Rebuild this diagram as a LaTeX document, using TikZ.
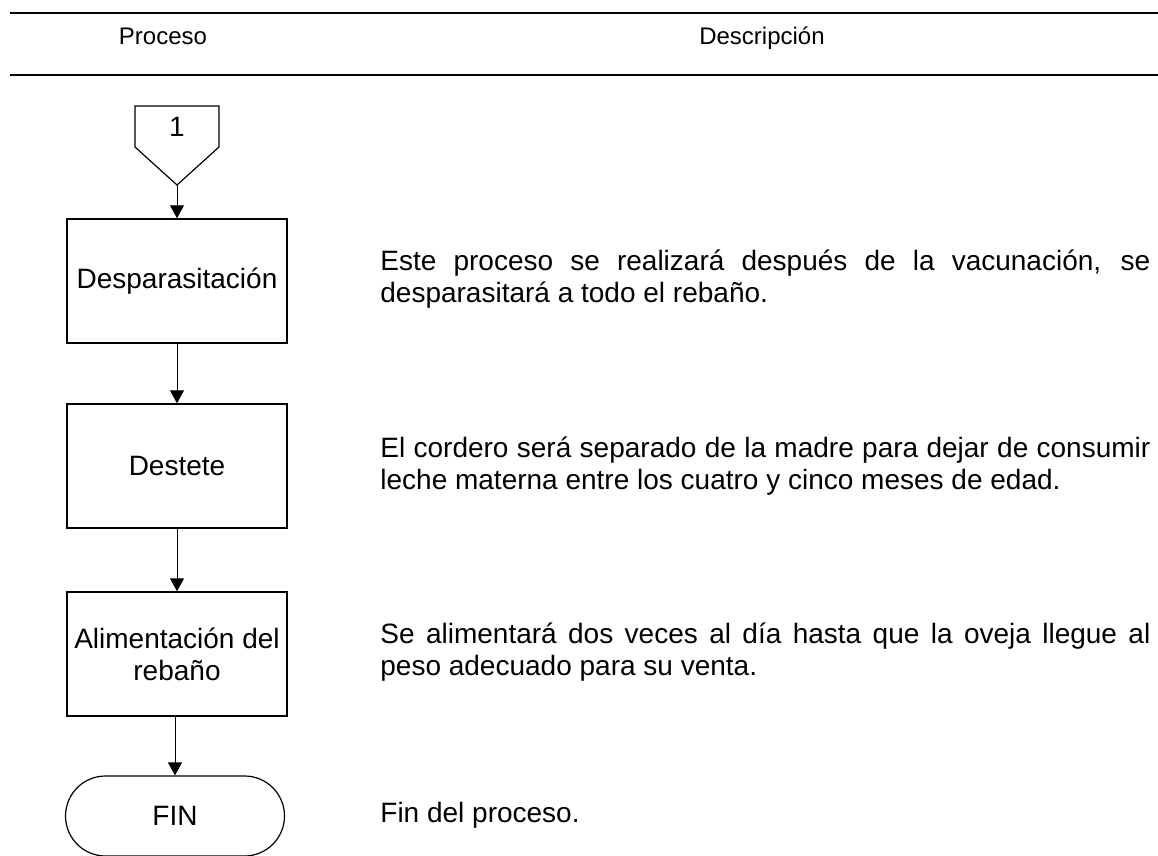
\documentclass[tikz,border=0pt]{standalone}
\usepackage{fontspec}
\setmainfont{Liberation Sans}
\usetikzlibrary{positioning,arrows.meta}
\newcommand{\pnode}[3]{\node [proc] (#1) at (#2) {#3}}
\newcommand{\dnode}[3]{\node [desc] (#1) at (#2) {#3}}
\newcommand{\fullline}[1]{\makebox[385pt][s]{#1}}

\begin{document}
\begin{tikzpicture}[x=0.5pt,y=-0.5pt,
  proc/.style={draw, line width=0.7pt, minimum width=110pt, minimum height=62pt,
    align=center, inner sep=0pt, font=\fontsize{14}{16}\selectfont},
  finbox/.style={draw, line width=0.6pt, rounded corners=20pt, minimum width=109.5pt,
    minimum height=40pt, inner sep=0pt, font=\fontsize{14}{16}\selectfont},
  desc/.style={anchor=west, align=left, inner sep=0pt, font=\fontsize{14}{16}\selectfont},
  hdr/.style={anchor=base, inner sep=0pt, font=\fontsize{12}{14}\selectfont},
  flow/.style={-{Triangle[length=6.5pt,width=7pt]}, line width=0.5pt}]

\useasboundingbox (0,0) rectangle (1158,856);

% cabecera de la tabla
\draw[line width=1pt] (10,13) -- (1158,13);
\draw[line width=1pt] (10,75) -- (1158,75);
\node [hdr] (proceso) at (163,45) {Proceso};
\node [hdr] (descripcion) at (762,45) {Descripción};

% conector de pagina
\draw[line width=0.6pt] (135,106) -- (219,106) -- (219,147) -- (177,185) -- (135,147) -- cycle;
\node [font=\fontsize{14}{16}\selectfont] (uno) at (177,127) {1};
\coordinate (c1) at (177,185);

\pnode{DESP}{177,281}{Desparasitación};
\pnode{DEST}{177,466}{Destete};
\pnode{ALIM}{177,654}{Alimentación del\\rebaño};
\node [finbox] (FIN) at (175,816) {FIN};

\draw[flow] (c1) -- (DESP);
\draw[flow] (DESP) -- (DEST);
\draw[flow] (DEST) -- (ALIM);
\draw[flow] (ALIM.south -| FIN.north) -- (FIN);

% descripciones
\dnode{dDESP}{380,279}{\fullline{Este proceso se realizará después de la vacunación, se}\\desparasitará a todo el rebaño.};
\dnode{dDEST}{380,466}{\fullline{El cordero será separado de la madre para dejar de consumir}\\leche materna entre los cuatro y cinco meses de edad.};
\dnode{dALIM}{380,652}{\fullline{Se alimentará dos veces al día hasta que la oveja llegue al}\\peso adecuado para su venta.};
\dnode{dFIN}{380,815}{Fin del proceso.};

\end{tikzpicture}
\end{document}
